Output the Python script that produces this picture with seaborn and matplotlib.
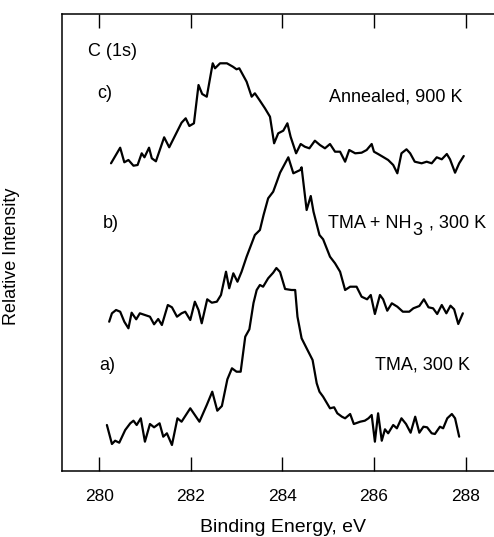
import matplotlib
matplotlib.use("Agg")
import matplotlib.pyplot as plt
import seaborn as sns
import pandas as pd

# ---- data (binding energy in eV, relative intensity in arbitrary units) ----
energy_a = [280.17, 280.28, 280.35, 280.44, 280.57, 280.68, 280.75, 280.82, 280.91, 281.00,
            281.11, 281.20, 281.32, 281.40, 281.48, 281.59, 281.71, 281.80, 281.99, 282.19,
            282.35, 282.47, 282.58, 282.68, 282.80, 282.90, 283.00, 283.09, 283.19, 283.28,
            283.37, 283.44, 283.51, 283.58, 283.69, 283.80, 283.87, 283.95, 284.06, 284.20,
            284.28, 284.33, 284.42, 284.53, 284.66, 284.75, 284.81, 284.89, 285.04, 285.13,
            285.20, 285.30, 285.37, 285.48, 285.56, 285.70, 285.80, 285.88, 285.95, 286.02,
            286.09, 286.17, 286.24, 286.31, 286.42, 286.50, 286.60, 286.70, 286.80, 286.90,
            286.99, 287.08, 287.16, 287.26, 287.33, 287.44, 287.51, 287.60, 287.70, 287.77,
            287.86]
intensity_a = [46, 27, 30.3, 28.3, 41, 47.7, 50.3, 46, 52.7, 29.3,
               47, 43.7, 47.7, 34.3, 37.7, 26, 52.7, 49.3, 62.7, 49.3,
               66, 79.3, 60.3, 65, 91.7, 102.7, 99.3, 99.3, 134.3, 141.7,
               168, 181, 186, 184.3, 192.7, 198.3, 203, 199, 182, 181,
               181, 154.3, 132.7, 122.7, 111, 87.7, 79.3, 74.3, 62.7, 63.7,
               57.7, 54.3, 52.7, 57, 47, 49.3, 50.3, 52.7, 56, 29.3,
               57.7, 30.3, 41.7, 37.7, 46, 42.7, 52.7, 47, 38.3, 54.3,
               38.3, 44.3, 43.7, 37.7, 37, 44.3, 42.7, 52.7, 57, 52.7,
               34.3]

energy_b = [280.22, 280.28, 280.37, 280.46, 280.55, 280.64, 280.71, 280.81, 280.89, 281.00,
            281.11, 281.20, 281.29, 281.37, 281.50, 281.59, 281.70, 281.80, 281.88, 281.99,
            282.09, 282.17, 282.24, 282.36, 282.46, 282.57, 282.66, 282.77, 282.84, 282.93,
            283.02, 283.11, 283.22, 283.40, 283.51, 283.59, 283.69, 283.80, 283.88, 283.95,
            284.06, 284.13, 284.24, 284.39, 284.42, 284.53, 284.62, 284.68, 284.81, 284.89,
            285.04, 285.15, 285.26, 285.37, 285.48, 285.62, 285.73, 285.85, 285.93, 286.02,
            286.13, 286.20, 286.29, 286.39, 286.51, 286.63, 286.77, 286.86, 286.99, 287.09,
            287.19, 287.29, 287.38, 287.48, 287.58, 287.67, 287.75, 287.84, 287.94]
intensity_b = [149.3, 157.7, 161, 159.3, 149.3, 142.7, 158.3, 151.7, 157.7, 156,
               154.3, 146.7, 152, 146, 166, 163.7, 154.3, 157.7, 159.3, 151,
               169.3, 161, 147.7, 171.7, 168.3, 169.3, 176, 199.3, 182.7, 197.7,
               189.3, 199.3, 214.3, 236, 241, 256, 272.7, 279.3, 289.3, 298.3,
               307.7, 313.7, 297.7, 301, 303.7, 261, 275, 259.3, 236, 231.7,
               214.3, 207.7, 199.3, 181, 184.3, 184.3, 174.3, 171.7, 176, 157,
               176, 171.7, 160.3, 167.7, 164.3, 159.3, 159.3, 162.7, 165, 171.7,
               163.7, 162.7, 157, 166, 157.7, 165.3, 161.7, 147, 157.7]

energy_c = [280.26, 280.46, 280.55, 280.64, 280.75, 280.84, 280.93, 280.99, 281.09, 281.15,
            281.24, 281.42, 281.53, 281.80, 281.89, 281.97, 282.07, 282.17, 282.25, 282.35,
            282.48, 282.53, 282.64, 282.79, 282.92, 283.00, 283.06, 283.22, 283.33, 283.40,
            283.50, 283.62, 283.73, 283.82, 283.91, 284.02, 284.11, 284.18, 284.30, 284.40,
            284.49, 284.59, 284.71, 284.82, 284.93, 285.04, 285.15, 285.26, 285.37, 285.46,
            285.59, 285.73, 285.84, 285.95, 286.00, 286.09, 286.19, 286.31, 286.42, 286.51,
            286.60, 286.71, 286.79, 286.89, 287.04, 287.15, 287.26, 287.37, 287.48, 287.59,
            287.66, 287.77, 287.86, 287.96]
intensity_c = [307.7, 323.3, 308.7, 311, 305.3, 306, 317.7, 313.7, 323.3, 312.7,
               309.7, 333.7, 323.7, 348.3, 352.7, 345, 347.7, 386, 377, 374.3,
               407.7, 402.7, 407.7, 407.7, 404.3, 401.7, 402.7, 389.3, 374.3, 377.7,
               371, 362.7, 354.3, 327.7, 337.7, 340.3, 347.7, 334.3, 317.7, 327,
               324.3, 322.7, 330.3, 326, 322.7, 327, 319.3, 319.3, 309.3, 321,
               317.7, 318.3, 321, 327, 319.3, 317, 314.3, 311, 306, 297.7,
               317.7, 321.7, 317.7, 309.3, 307.7, 309.3, 307.7, 313.7, 311.7, 317,
               311.7, 298.3, 307.7, 315]

series_labels = ["a)", "b)", "c)"]
conditions = ["TMA, 300 K", "TMA + NH", "Annealed, 900 K"]
x_ticks = [280, 282, 284, 286, 288]

# ---- figure ----
sns.set_theme(style="white")
plt.rcParams["font.family"] = ["Liberation Sans", "DejaVu Sans"]
plt.rcParams["text.color"] = "black"
plt.rcParams["axes.labelcolor"] = "black"
plt.rcParams["xtick.color"] = "black"

fig = plt.figure(figsize=(4.94, 5.37), dpi=100)
ax = fig.add_axes([62 / 494, 66 / 537, 432 / 494, 457 / 537])

for e, i in [(energy_a, intensity_a), (energy_b, intensity_b), (energy_c, intensity_c)]:
    df = pd.DataFrame({"energy": e, "intensity": i})
    sns.lineplot(data=df, x="energy", y="intensity", ax=ax, color="black",
                 linewidth=1.6, sort=False, estimator=None)

ax.set_xlim(279.19, 288.62)
ax.set_ylim(0, 457)
ax.set_xticks(x_ticks)
ax.set_xticklabels([str(t) for t in x_ticks], fontsize=12.5)
ax.set_yticks([])
ax.tick_params(axis="x", which="both", direction="in", length=10, width=1.0,
               top=True, bottom=True, pad=13, colors="black")
for side in ["left", "top", "bottom"]:
    ax.spines[side].set_color("black")
    ax.spines[side].set_linewidth(1.1)
ax.spines["right"].set_visible(False)

ax.set_xlabel("Binding Energy, eV", fontsize=14, labelpad=14)
ax.xaxis.set_label_coords(0.511, -0.105)
ax.set_ylabel("Relative Intensity", fontsize=13)
ax.yaxis.set_label_coords(-0.097, 0.47)

fs = 13
ax.text(279.76, 419, "C (1s)", fontsize=fs, ha="left", va="center")
ax.text(279.96, 377, series_labels[2], fontsize=fs, ha="left", va="center")
ax.text(287.94, 374, conditions[2], fontsize=fs, ha="right", va="center")
ax.text(280.07, 248, series_labels[1], fontsize=fs, ha="left", va="center")
t1 = ax.text(285.0, 248, conditions[1], fontsize=fs, ha="left", va="center")
ax.annotate("3", xy=(1, 0.5), xycoords=t1, xytext=(0.5, -5.5), textcoords="offset points",
            fontsize=fs, ha="left", va="center")
ax.annotate(" , 300 K", xy=(1, 0.5), xycoords=t1, xytext=(9, 0), textcoords="offset points",
            fontsize=fs, ha="left", va="center", annotation_clip=False)
ax.text(280.0, 106, series_labels[0], fontsize=fs, ha="left", va="center")
ax.text(288.1, 106, conditions[0], fontsize=fs, ha="right", va="center")

fig.savefig("out.png", dpi=100)
